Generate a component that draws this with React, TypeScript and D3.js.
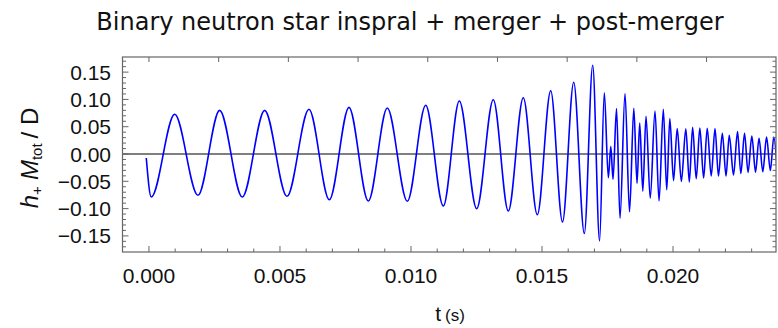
import * as d3 from "d3";
import React from "react";

// extrema of the waveform (t in s, h+ Mtot / D)
const times = [
  -0.000103, 0.000088, 0.000981, 0.00187, 0.002698, 0.003561, 0.004416, 0.005267, 0.006107, 0.006882,
  0.007634, 0.00837, 0.009095, 0.009859, 0.010561, 0.011233, 0.011844, 0.012508, 0.013141, 0.013714,
  0.014286, 0.014821, 0.015332, 0.015782, 0.01621, 0.016615, 0.016935, 0.017198, 0.017378, 0.017531,
  0.017626, 0.01771, 0.017844, 0.017977, 0.018168, 0.01834, 0.018504, 0.018626, 0.018729, 0.018847,
  0.018969, 0.01913, 0.019313, 0.019466, 0.01963, 0.01976, 0.019878, 0.020019, 0.02016, 0.020317,
  0.020489, 0.020622, 0.020748, 0.020885, 0.021023, 0.021168, 0.021305, 0.021458, 0.021603, 0.021733,
  0.021882, 0.022023, 0.022145, 0.022309, 0.022462, 0.022588, 0.022729, 0.022863, 0.023008, 0.023149,
  0.023282, 0.023427, 0.023569, 0.023714, 0.023847, 0.023969,
];
const strain = [
  -0.0073, -0.0788, 0.0727, -0.0756, 0.08, -0.0788, 0.08, -0.0775, 0.0819, -0.0837,
  0.0855, -0.0861, 0.0842, -0.0866, 0.0892, -0.0952, 0.0971, -0.1002, 0.0995, -0.1044,
  0.1031, -0.1112, 0.1159, -0.1245, 0.1315, -0.1456, 0.1626, -0.1593, 0.1123, -0.0434,
  0.0137, -0.0463, 0.0833, -0.1178, 0.1108, -0.1059, 0.0839, -0.054, 0.0568, -0.0681,
  0.0692, -0.081, 0.0788, -0.0861, 0.0821, -0.0656, 0.065, -0.0487, 0.0465, -0.0502,
  0.0462, -0.0511, 0.0491, -0.0452, 0.0476, -0.044, 0.0471, -0.0403, 0.0467, -0.0403,
  0.0381, -0.0403, 0.0344, -0.0385, 0.0412, -0.0357, 0.0381, -0.0337, 0.033, -0.0333,
  0.0289, -0.0326, 0.0311, -0.0302, 0.0311, -0.0266,
];

const xMajor = [0, 0.005, 0.01, 0.015, 0.02];
const yMajor = [-0.15, -0.1, -0.05, 0, 0.05, 0.1, 0.15];
// top frame ticks, in units of Mtot (unlabelled)
const topMajor = [0, 200, 400, 600, 800, 1000, 1200, 1400, 1600];
const MTOT_S = 1.33e-5;

export default function App() {
  const W = 778, H = 328;
  const L = 122.5, R = 776, T = 57, B = 252;
  const x = d3.scaleLinear().domain([-0.00101, 0.02393]).range([L, R]);
  const y = d3.scaleLinear().domain([-0.1795, 0.1777]).range([B, T]);

  const pts = times.map((t, i) => [t, strain[i]] as [number, number]);
  const line = d3.line<[number, number]>().x(d => x(d[0])).y(d => y(d[1])).curve(d3.curveMonotoneX);

  const xMinor = d3.range(1, 24).map(i => i / 1000).filter(v => !xMajor.some(mj => Math.abs(mj - v) < 1e-9));
  const yMinor = d3.range(-17, 18).filter(i => i % 5 !== 0).map(i => i / 100);

  const frame = "#666";
  const fmtY = (v: number) => (v < 0 ? "\u2212" : "") + Math.abs(v).toFixed(2);
  const tickFont = "'Liberation Sans', Arial, sans-serif";

  return (
    <div style={{ position: "absolute", left: 0, top: 0 }}>
      <svg width={W} height={H} viewBox={`0 0 ${W} ${H}`} style={{ display: "block", background: "#fff" }}>
        <defs>
          <clipPath id="plot">
            <rect x={L} y={T} width={R - L} height={B - T} />
          </clipPath>
        </defs>

        <text x={410} y={30} textAnchor="middle" fontFamily="'DejaVu Sans', sans-serif" fontSize={24} fill="#111">
          Binary neutron star inspral + merger + post-merger
        </text>

        {/* zero line */}
        <line x1={L} x2={R} y1={y(0)} y2={y(0)} stroke="#000" strokeWidth={1} />

        <path d={line(pts) ?? undefined} fill="none" stroke="#0000ff" strokeWidth={1.6} clipPath="url(#plot)" />

        {/* frame */}
        <rect x={L} y={T} width={R - L} height={B - T} fill="none" stroke={frame} strokeWidth={1.2} />

        {/* bottom ticks */}
        {xMajor.map(v => (
          <g key={"xb" + v}>
            <line x1={x(v)} x2={x(v)} y1={B} y2={B - 6} stroke={frame} />
            <text x={x(v)} y={283} textAnchor="middle" fontFamily={tickFont} fontSize={21} fill="#111">{v.toFixed(3)}</text>
          </g>
        ))}
        {xMinor.map(v => (
          <line key={"xm" + v} x1={x(v)} x2={x(v)} y1={B} y2={B - 3.5} stroke={frame} />
        ))}

        {/* top ticks */}
        {topMajor.map(v => (
          <line key={"xt" + v} x1={x(v * MTOT_S)} x2={x(v * MTOT_S)} y1={T} y2={T + 5} stroke={frame} />
        ))}

        {/* left + right ticks */}
        {yMajor.map(v => (
          <g key={"ym" + v}>
            <line x1={L} x2={L + 6} y1={y(v)} y2={y(v)} stroke={frame} />
            <line x1={R} x2={R - 6} y1={y(v)} y2={y(v)} stroke={frame} />
            <text x={111} y={y(v) + 7.5} textAnchor="end" fontFamily={tickFont} fontSize={21} fill="#111">{fmtY(v)}</text>
          </g>
        ))}
        {yMinor.map(v => (
          <g key={"yn" + v}>
            <line x1={L} x2={L + 3.5} y1={y(v)} y2={y(v)} stroke={frame} />
            <line x1={R} x2={R - 3.5} y1={y(v)} y2={y(v)} stroke={frame} />
          </g>
        ))}

        {/* axis labels */}
        <text x={450} y={321} textAnchor="middle" fontFamily={tickFont} fill="#111">
          <tspan fontSize={21}>t</tspan>
          <tspan fontSize={17} dx={4}>(s)</tspan>
        </text>
        <text transform="translate(38,158) rotate(-90)" textAnchor="middle" fontFamily={tickFont} fill="#111" fontSize={24}>
          <tspan fontStyle="italic">h</tspan>
          <tspan fontSize={15} dy={4}>+</tspan>
          <tspan dy={-4} dx={6} fontStyle="italic">M</tspan>
          <tspan fontSize={15} dy={4}>tot</tspan>
          <tspan dy={-4} dx={5}>/ D</tspan>
        </text>
      </svg>
    </div>
  );
}
